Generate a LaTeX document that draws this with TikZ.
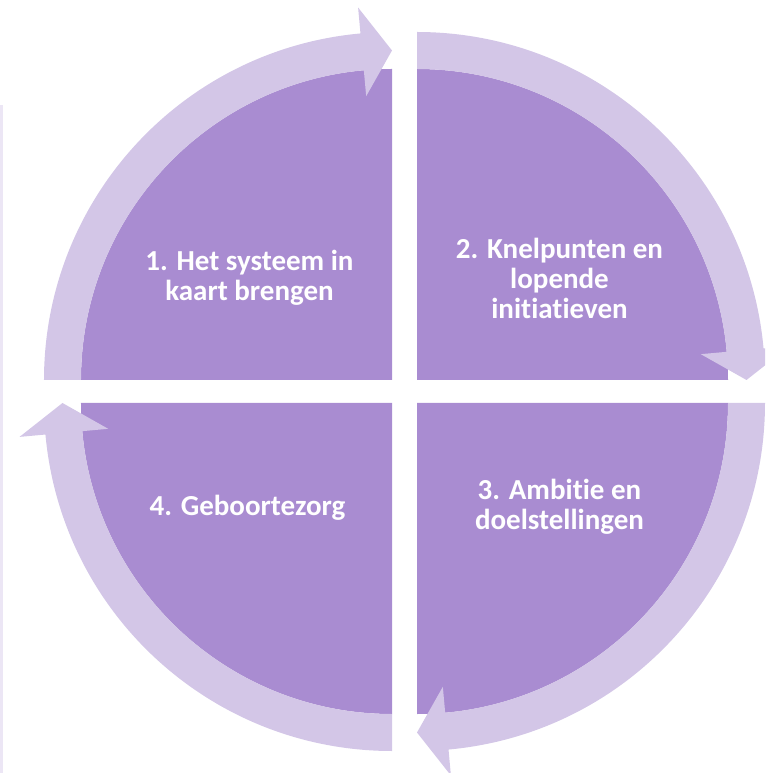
\documentclass[tikz,border=0pt]{standalone}
\usepackage{fontspec}
\setmainfont[Ligatures=NoCommon]{Carlito}
\usepackage{tikz}
\definecolor{wedge}{RGB}{169,140,209}
\definecolor{band}{RGB}{211,198,231}
\definecolor{edge}{RGB}{236,230,245}

\begin{document}
\begin{tikzpicture}[x=1pt,y=1pt,
  phase/.style={text=white,align=center,font=\fontsize{29}{30}\selectfont\bfseries}]
  \clip (-404.5,-381.5) rectangle (360.5,391.5);
  \fill[edge] (-404.5,-381.5) rectangle (-401.5,286.5);
  \foreach \cx/\cy/\rot in {-12.5/11.5/0, 12.5/11.5/-90, 12.5/-11.5/-180, -12.5/-11.5/-270}
  {
    \begin{scope}[shift={(\cx,\cy)},rotate=\rot]
      \fill[wedge] (0,0) -- (180:311) arc (180:90:311) -- cycle;
      \fill[band] (180:311) arc (180:95.2:311) -- (95.2:285) -- (90:329.5)
        -- (95.2:374) -- (95.2:348) arc (95.2:180:348) -- cycle;
    \end{scope}
  }
  \node[phase] (t1) at (-155,114) {1. Het systeem in\\kaart brengen};
  \node[phase] (t2) at (155,113) {2. Knelpunten en\\lopende\\initiatieven};
  \node[phase] (t3) at (155,-115) {3. Ambitie en\\doelstellingen};
  \node[phase] (t4) at (-157,-116) {4. Geboortezorg};
\end{tikzpicture}
\end{document}
